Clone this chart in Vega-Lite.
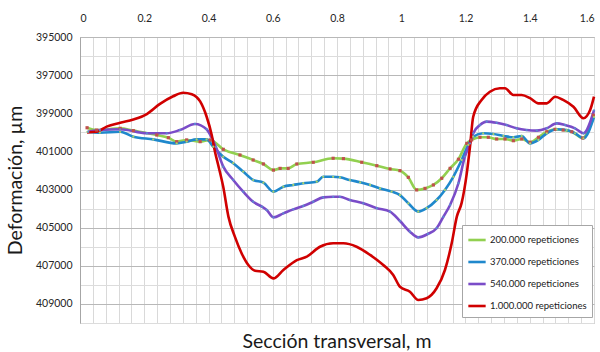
{
  "$schema": "https://vega.github.io/schema/vega-lite/v6.json",
  "width": 514,
  "height": 286,
  "autosize": {"type": "none"},
  "padding": {"left": 80, "top": 37, "right": 6, "bottom": 29},
  "background": "white",
  "title": {"text": "Sección transversal, m", "orient": "bottom", "anchor": "middle", "font": "Lato", "fontSize": 19.5, "fontWeight": "normal", "color": "#1a1a1a", "offset": 4},
  "config": {
    "view": {"stroke": "#a6a6a6", "strokeWidth": 1},
    "axis": {"labelFont": "Lato", "labelFontSize": 10.5, "labelColor": "#262626", "titleFont": "Lato", "titleFontWeight": "normal", "titleColor": "#1a1a1a", "ticks": false, "domainColor": "#a6a6a6", "gridColor": "#d9d9d9", "gridWidth": 1, "labelOverlap": false}
  },
  "data": {"values": [
    {"s": "200.000 repeticiones", "x": 0.022, "y": 399760},
    {"s": "200.000 repeticiones", "x": 0.052, "y": 399880},
    {"s": "200.000 repeticiones", "x": 0.125, "y": 399790},
    {"s": "200.000 repeticiones", "x": 0.166, "y": 399910},
    {"s": "200.000 repeticiones", "x": 0.239, "y": 400140},
    {"s": "200.000 repeticiones", "x": 0.275, "y": 400280},
    {"s": "200.000 repeticiones", "x": 0.301, "y": 400490},
    {"s": "200.000 repeticiones", "x": 0.332, "y": 400400},
    {"s": "200.000 repeticiones", "x": 0.374, "y": 400490},
    {"s": "200.000 repeticiones", "x": 0.405, "y": 400400},
    {"s": "200.000 repeticiones", "x": 0.446, "y": 400890},
    {"s": "200.000 repeticiones", "x": 0.498, "y": 401190},
    {"s": "200.000 repeticiones", "x": 0.539, "y": 401450},
    {"s": "200.000 repeticiones", "x": 0.571, "y": 401660},
    {"s": "200.000 repeticiones", "x": 0.602, "y": 401980},
    {"s": "200.000 repeticiones", "x": 0.623, "y": 401890},
    {"s": "200.000 repeticiones", "x": 0.648, "y": 401890},
    {"s": "200.000 repeticiones", "x": 0.675, "y": 401660},
    {"s": "200.000 repeticiones", "x": 0.726, "y": 401570},
    {"s": "200.000 repeticiones", "x": 0.788, "y": 401360},
    {"s": "200.000 repeticiones", "x": 0.820, "y": 401380},
    {"s": "200.000 repeticiones", "x": 0.877, "y": 401570},
    {"s": "200.000 repeticiones", "x": 0.924, "y": 401750},
    {"s": "200.000 repeticiones", "x": 0.965, "y": 401920},
    {"s": "200.000 repeticiones", "x": 0.996, "y": 402010},
    {"s": "200.000 repeticiones", "x": 1.022, "y": 402360},
    {"s": "200.000 repeticiones", "x": 1.048, "y": 403020},
    {"s": "200.000 repeticiones", "x": 1.074, "y": 402940},
    {"s": "200.000 repeticiones", "x": 1.100, "y": 402760},
    {"s": "200.000 repeticiones", "x": 1.126, "y": 402410},
    {"s": "200.000 repeticiones", "x": 1.152, "y": 401890},
    {"s": "200.000 repeticiones", "x": 1.178, "y": 401410},
    {"s": "200.000 repeticiones", "x": 1.204, "y": 400580},
    {"s": "200.000 repeticiones", "x": 1.219, "y": 400400},
    {"s": "200.000 repeticiones", "x": 1.245, "y": 400260},
    {"s": "200.000 repeticiones", "x": 1.271, "y": 400260},
    {"s": "200.000 repeticiones", "x": 1.297, "y": 400350},
    {"s": "200.000 repeticiones", "x": 1.323, "y": 400350},
    {"s": "200.000 repeticiones", "x": 1.349, "y": 400440},
    {"s": "200.000 repeticiones", "x": 1.375, "y": 400350},
    {"s": "200.000 repeticiones", "x": 1.401, "y": 400520},
    {"s": "200.000 repeticiones", "x": 1.427, "y": 400260},
    {"s": "200.000 repeticiones", "x": 1.453, "y": 399970},
    {"s": "200.000 repeticiones", "x": 1.479, "y": 399840},
    {"s": "200.000 repeticiones", "x": 1.504, "y": 399880},
    {"s": "200.000 repeticiones", "x": 1.531, "y": 399970},
    {"s": "200.000 repeticiones", "x": 1.565, "y": 400300},
    {"s": "200.000 repeticiones", "x": 1.598, "y": 399100},

    {"s": "370.000 repeticiones", "x": 0.023, "y": 399970},
    {"s": "370.000 repeticiones", "x": 0.062, "y": 400020},
    {"s": "370.000 repeticiones", "x": 0.125, "y": 399970},
    {"s": "370.000 repeticiones", "x": 0.166, "y": 400230},
    {"s": "370.000 repeticiones", "x": 0.228, "y": 400370},
    {"s": "370.000 repeticiones", "x": 0.301, "y": 400580},
    {"s": "370.000 repeticiones", "x": 0.332, "y": 400490},
    {"s": "370.000 repeticiones", "x": 0.363, "y": 400370},
    {"s": "370.000 repeticiones", "x": 0.394, "y": 400370},
    {"s": "370.000 repeticiones", "x": 0.415, "y": 400750},
    {"s": "370.000 repeticiones", "x": 0.446, "y": 401280},
    {"s": "370.000 repeticiones", "x": 0.477, "y": 401620},
    {"s": "370.000 repeticiones", "x": 0.508, "y": 402060},
    {"s": "370.000 repeticiones", "x": 0.539, "y": 402500},
    {"s": "370.000 repeticiones", "x": 0.571, "y": 402640},
    {"s": "370.000 repeticiones", "x": 0.602, "y": 403110},
    {"s": "370.000 repeticiones", "x": 0.633, "y": 402850},
    {"s": "370.000 repeticiones", "x": 0.664, "y": 402760},
    {"s": "370.000 repeticiones", "x": 0.695, "y": 402670},
    {"s": "370.000 repeticiones", "x": 0.737, "y": 402590},
    {"s": "370.000 repeticiones", "x": 0.757, "y": 402330},
    {"s": "370.000 repeticiones", "x": 0.788, "y": 402330},
    {"s": "370.000 repeticiones", "x": 0.809, "y": 402360},
    {"s": "370.000 repeticiones", "x": 0.840, "y": 402500},
    {"s": "370.000 repeticiones", "x": 0.872, "y": 402620},
    {"s": "370.000 repeticiones", "x": 0.903, "y": 402760},
    {"s": "370.000 repeticiones", "x": 0.934, "y": 402940},
    {"s": "370.000 repeticiones", "x": 0.970, "y": 403110},
    {"s": "370.000 repeticiones", "x": 0.996, "y": 403290},
    {"s": "370.000 repeticiones", "x": 1.022, "y": 403720},
    {"s": "370.000 repeticiones", "x": 1.053, "y": 404160},
    {"s": "370.000 repeticiones", "x": 1.079, "y": 403980},
    {"s": "370.000 repeticiones", "x": 1.110, "y": 403550},
    {"s": "370.000 repeticiones", "x": 1.136, "y": 403020},
    {"s": "370.000 repeticiones", "x": 1.162, "y": 402330},
    {"s": "370.000 repeticiones", "x": 1.188, "y": 401450},
    {"s": "370.000 repeticiones", "x": 1.209, "y": 400660},
    {"s": "370.000 repeticiones", "x": 1.224, "y": 400230},
    {"s": "370.000 repeticiones", "x": 1.255, "y": 400050},
    {"s": "370.000 repeticiones", "x": 1.287, "y": 400090},
    {"s": "370.000 repeticiones", "x": 1.318, "y": 400190},
    {"s": "370.000 repeticiones", "x": 1.349, "y": 400260},
    {"s": "370.000 repeticiones", "x": 1.375, "y": 400190},
    {"s": "370.000 repeticiones", "x": 1.401, "y": 400580},
    {"s": "370.000 repeticiones", "x": 1.427, "y": 400400},
    {"s": "370.000 repeticiones", "x": 1.453, "y": 400050},
    {"s": "370.000 repeticiones", "x": 1.484, "y": 399840},
    {"s": "370.000 repeticiones", "x": 1.515, "y": 399880},
    {"s": "370.000 repeticiones", "x": 1.541, "y": 400050},
    {"s": "370.000 repeticiones", "x": 1.567, "y": 400310},
    {"s": "370.000 repeticiones", "x": 1.600, "y": 399200},

    {"s": "540.000 repeticiones", "x": 0.026, "y": 399970},
    {"s": "540.000 repeticiones", "x": 0.062, "y": 399880},
    {"s": "540.000 repeticiones", "x": 0.125, "y": 399840},
    {"s": "540.000 repeticiones", "x": 0.208, "y": 400050},
    {"s": "540.000 repeticiones", "x": 0.270, "y": 400050},
    {"s": "540.000 repeticiones", "x": 0.311, "y": 399880},
    {"s": "540.000 repeticiones", "x": 0.358, "y": 399560},
    {"s": "540.000 repeticiones", "x": 0.394, "y": 399840},
    {"s": "540.000 repeticiones", "x": 0.423, "y": 400770},
    {"s": "540.000 repeticiones", "x": 0.446, "y": 401800},
    {"s": "540.000 repeticiones", "x": 0.477, "y": 402500},
    {"s": "540.000 repeticiones", "x": 0.508, "y": 403110},
    {"s": "540.000 repeticiones", "x": 0.539, "y": 403640},
    {"s": "540.000 repeticiones", "x": 0.566, "y": 403900},
    {"s": "540.000 repeticiones", "x": 0.581, "y": 404070},
    {"s": "540.000 repeticiones", "x": 0.602, "y": 404460},
    {"s": "540.000 repeticiones", "x": 0.633, "y": 404250},
    {"s": "540.000 repeticiones", "x": 0.664, "y": 404040},
    {"s": "540.000 repeticiones", "x": 0.695, "y": 403860},
    {"s": "540.000 repeticiones", "x": 0.726, "y": 403640},
    {"s": "540.000 repeticiones", "x": 0.757, "y": 403410},
    {"s": "540.000 repeticiones", "x": 0.788, "y": 403380},
    {"s": "540.000 repeticiones", "x": 0.809, "y": 403380},
    {"s": "540.000 repeticiones", "x": 0.840, "y": 403550},
    {"s": "540.000 repeticiones", "x": 0.882, "y": 403720},
    {"s": "540.000 repeticiones", "x": 0.924, "y": 403980},
    {"s": "540.000 repeticiones", "x": 0.965, "y": 404160},
    {"s": "540.000 repeticiones", "x": 0.996, "y": 404650},
    {"s": "540.000 repeticiones", "x": 1.027, "y": 405210},
    {"s": "540.000 repeticiones", "x": 1.053, "y": 405510},
    {"s": "540.000 repeticiones", "x": 1.083, "y": 405330},
    {"s": "540.000 repeticiones", "x": 1.110, "y": 405030},
    {"s": "540.000 repeticiones", "x": 1.131, "y": 404430},
    {"s": "540.000 repeticiones", "x": 1.152, "y": 403810},
    {"s": "540.000 repeticiones", "x": 1.178, "y": 402670},
    {"s": "540.000 repeticiones", "x": 1.198, "y": 401280},
    {"s": "540.000 repeticiones", "x": 1.214, "y": 400580},
    {"s": "540.000 repeticiones", "x": 1.224, "y": 400050},
    {"s": "540.000 repeticiones", "x": 1.245, "y": 399620},
    {"s": "540.000 repeticiones", "x": 1.266, "y": 399440},
    {"s": "540.000 repeticiones", "x": 1.297, "y": 399500},
    {"s": "540.000 repeticiones", "x": 1.328, "y": 399620},
    {"s": "540.000 repeticiones", "x": 1.359, "y": 399790},
    {"s": "540.000 repeticiones", "x": 1.390, "y": 399880},
    {"s": "540.000 repeticiones", "x": 1.422, "y": 399910},
    {"s": "540.000 repeticiones", "x": 1.453, "y": 399790},
    {"s": "540.000 repeticiones", "x": 1.484, "y": 399530},
    {"s": "540.000 repeticiones", "x": 1.510, "y": 399620},
    {"s": "540.000 repeticiones", "x": 1.541, "y": 399790},
    {"s": "540.000 repeticiones", "x": 1.567, "y": 400050},
    {"s": "540.000 repeticiones", "x": 1.600, "y": 398850},

    {"s": "1.000.000 repeticiones", "x": 0.022, "y": 400000},
    {"s": "1.000.000 repeticiones", "x": 0.052, "y": 399970},
    {"s": "1.000.000 repeticiones", "x": 0.083, "y": 399700},
    {"s": "1.000.000 repeticiones", "x": 0.125, "y": 399500},
    {"s": "1.000.000 repeticiones", "x": 0.166, "y": 399330},
    {"s": "1.000.000 repeticiones", "x": 0.208, "y": 399040},
    {"s": "1.000.000 repeticiones", "x": 0.249, "y": 398510},
    {"s": "1.000.000 repeticiones", "x": 0.290, "y": 398110},
    {"s": "1.000.000 repeticiones", "x": 0.321, "y": 397920},
    {"s": "1.000.000 repeticiones", "x": 0.348, "y": 398000},
    {"s": "1.000.000 repeticiones", "x": 0.374, "y": 398380},
    {"s": "1.000.000 repeticiones", "x": 0.394, "y": 399170},
    {"s": "1.000.000 repeticiones", "x": 0.410, "y": 400140},
    {"s": "1.000.000 repeticiones", "x": 0.420, "y": 401000},
    {"s": "1.000.000 repeticiones", "x": 0.430, "y": 401700},
    {"s": "1.000.000 repeticiones", "x": 0.446, "y": 402870},
    {"s": "1.000.000 repeticiones", "x": 0.462, "y": 404420},
    {"s": "1.000.000 repeticiones", "x": 0.482, "y": 405470},
    {"s": "1.000.000 repeticiones", "x": 0.503, "y": 406340},
    {"s": "1.000.000 repeticiones", "x": 0.524, "y": 406960},
    {"s": "1.000.000 repeticiones", "x": 0.545, "y": 407260},
    {"s": "1.000.000 repeticiones", "x": 0.571, "y": 407310},
    {"s": "1.000.000 repeticiones", "x": 0.602, "y": 407660},
    {"s": "1.000.000 repeticiones", "x": 0.633, "y": 407220},
    {"s": "1.000.000 repeticiones", "x": 0.675, "y": 406700},
    {"s": "1.000.000 repeticiones", "x": 0.706, "y": 406520},
    {"s": "1.000.000 repeticiones", "x": 0.747, "y": 406000},
    {"s": "1.000.000 repeticiones", "x": 0.788, "y": 405820},
    {"s": "1.000.000 repeticiones", "x": 0.820, "y": 405820},
    {"s": "1.000.000 repeticiones", "x": 0.861, "y": 406000},
    {"s": "1.000.000 repeticiones", "x": 0.903, "y": 406430},
    {"s": "1.000.000 repeticiones", "x": 0.944, "y": 406960},
    {"s": "1.000.000 repeticiones", "x": 0.975, "y": 407480},
    {"s": "1.000.000 repeticiones", "x": 0.996, "y": 408100},
    {"s": "1.000.000 repeticiones", "x": 1.027, "y": 408360},
    {"s": "1.000.000 repeticiones", "x": 1.053, "y": 408790},
    {"s": "1.000.000 repeticiones", "x": 1.079, "y": 408700},
    {"s": "1.000.000 repeticiones", "x": 1.110, "y": 408180},
    {"s": "1.000.000 repeticiones", "x": 1.136, "y": 407220},
    {"s": "1.000.000 repeticiones", "x": 1.157, "y": 405820},
    {"s": "1.000.000 repeticiones", "x": 1.173, "y": 404420},
    {"s": "1.000.000 repeticiones", "x": 1.188, "y": 403700},
    {"s": "1.000.000 repeticiones", "x": 1.204, "y": 402150},
    {"s": "1.000.000 repeticiones", "x": 1.214, "y": 400750},
    {"s": "1.000.000 repeticiones", "x": 1.224, "y": 399180},
    {"s": "1.000.000 repeticiones", "x": 1.250, "y": 398300},
    {"s": "1.000.000 repeticiones", "x": 1.276, "y": 397870},
    {"s": "1.000.000 repeticiones", "x": 1.307, "y": 397690},
    {"s": "1.000.000 repeticiones", "x": 1.323, "y": 397690},
    {"s": "1.000.000 repeticiones", "x": 1.349, "y": 398040},
    {"s": "1.000.000 repeticiones", "x": 1.375, "y": 398040},
    {"s": "1.000.000 repeticiones", "x": 1.401, "y": 398210},
    {"s": "1.000.000 repeticiones", "x": 1.427, "y": 398480},
    {"s": "1.000.000 repeticiones", "x": 1.453, "y": 398480},
    {"s": "1.000.000 repeticiones", "x": 1.479, "y": 398130},
    {"s": "1.000.000 repeticiones", "x": 1.504, "y": 398300},
    {"s": "1.000.000 repeticiones", "x": 1.536, "y": 398660},
    {"s": "1.000.000 repeticiones", "x": 1.567, "y": 399260},
    {"s": "1.000.000 repeticiones", "x": 1.588, "y": 398830},
    {"s": "1.000.000 repeticiones", "x": 1.600, "y": 398130}
  ]},
  "encoding": {
    "x": {"field": "x", "type": "quantitative",
      "scale": {"domain": [0, 1.6], "nice": false, "zero": false},
      "axis": {"orient": "top", "title": null, "labelPadding": 14,
        "values": [0,0.04,0.08,0.12,0.16,0.2,0.24,0.28,0.32,0.36,0.4,0.44,0.48,0.52,0.56,0.6,0.64,0.68,0.72,0.76,0.8,0.84,0.88,0.92,0.96,1,1.04,1.08,1.12,1.16,1.2,1.24,1.28,1.32,1.36,1.4,1.44,1.48,1.52,1.56,1.6],
        "labelExpr": "abs(datum.value*5 - round(datum.value*5)) < 0.001 ? format(datum.value, '~g') : ''",
        "domain": false}},
    "y": {"field": "y", "type": "quantitative",
      "scale": {"domain": [395000, 410000], "reverse": true, "nice": false, "zero": false},
      "axis": {"title": "Deformación, µm", "titleFontSize": 19.5, "titlePadding": 10, "labelPadding": 8,
        "values": [395000,396000,397000,398000,399000,400000,401000,402000,403000,404000,405000,406000,407000,408000,409000,410000],
        "labelExpr": "((datum.value - 395000) % 2000 == 0 && datum.value < 410000) ? format(datum.value, 'd') : ''",
        "gridColor": {"condition": {"test": "(datum.value - 395000) % 2000 == 0", "value": "#b8b8b8"}, "value": "#dcdcdc"}}}
  },
  "layer": [
    {
      "mark": {"type": "line", "interpolate": "monotone", "strokeWidth": 2.6},
      "encoding": {
        "color": {"field": "s", "type": "nominal", "sort": null,
          "scale": {"domain": ["200.000 repeticiones", "370.000 repeticiones", "540.000 repeticiones", "1.000.000 repeticiones"], "range": ["#92D050", "#1F88CC", "#7A4CC8", "#D00000"]},
          "legend": {"title": null, "orient": "none", "legendX": 382, "legendY": 188, "symbolType": "stroke", "symbolStrokeWidth": 2.6, "symbolSize": 300, "labelFont": "Lato", "labelFontSize": 9.5, "labelColor": "#1a1a1a", "rowPadding": 6, "padding": 5, "strokeColor": "#a6a6a6", "fillColor": "white", "labelOffset": 3}}
      }
    },
    {
      "transform": [{"filter": "datum.s == '200.000 repeticiones'"}],
      "mark": {"type": "square", "filled": true, "size": 10, "color": "#C0504D", "opacity": 1},
      "encoding": {}
    },
    {
      "transform": [{"filter": "datum.s == '370.000 repeticiones'"}],
      "mark": {"type": "circle", "size": 5, "color": "#A9D36A", "opacity": 1},
      "encoding": {}
    },
    {
      "transform": [{"filter": "datum.s == '540.000 repeticiones'"}],
      "mark": {"type": "circle", "size": 5, "color": "#5B8BD0", "opacity": 1},
      "encoding": {}
    }
  ]
}
